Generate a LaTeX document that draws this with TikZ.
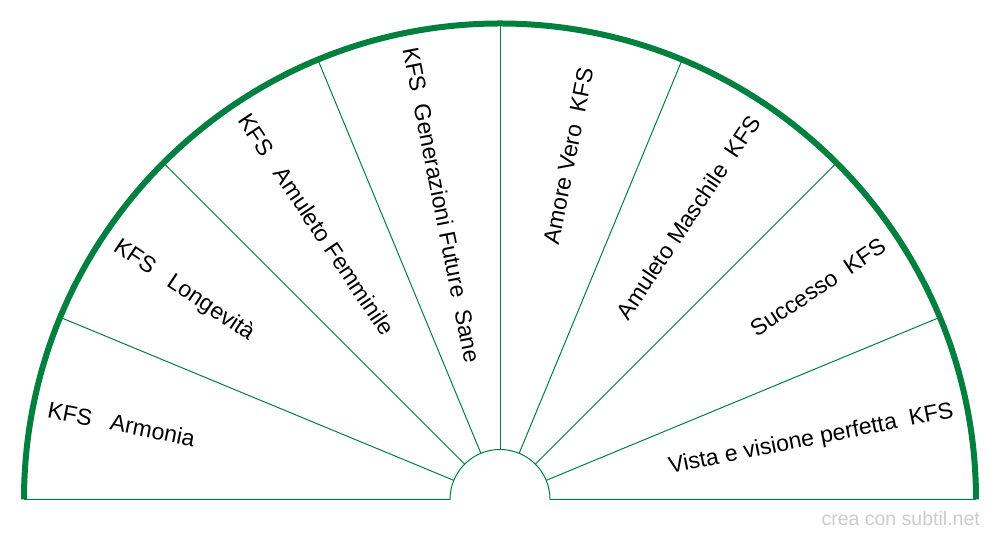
\documentclass[tikz,border=0pt]{standalone}
\usepackage{fontspec}
\setmainfont{Liberation Sans}
\usetikzlibrary{calc}
\definecolor{kgreen}{RGB}{0,128,62}
\definecolor{wmgray}{RGB}{204,204,204}
\tikzset{
  rim/.style={draw=kgreen, line width=6pt, line cap=butt},
  spoke/.style={draw=kgreen, line width=1pt},
  lbl/.style={font=\fontsize{23}{27}\selectfont, inner sep=0pt, text=black, text height=16pt, text depth=0pt},
  leftlbl/.style={lbl, anchor=west},
  rightlbl/.style={lbl, anchor=east},
}
\begin{document}
\begin{tikzpicture}[x=1pt,y=1pt]
\useasboundingbox (0,0) rectangle (1000,540);
\fill[white] (0,0) rectangle (1000,540);
\coordinate (O) at (500,40.5);
% spokes
\foreach \a in {22.5,45,67.5,90,112.5,135,157.5}{
  \draw[spoke] ($(O)+(\a:50)$) -- ($(O)+(\a:476)$);
}
% base line with inner arc
\draw[spoke] ($(O)+(-476,0)$) -- ($(O)+(-50,0)$) arc[start angle=180, end angle=0, radius=50] -- ($(O)+(476,0)$);
% outer rim
\draw[rim] ($(O)+(476,0)$) arc[start angle=0, end angle=180, radius=476];
% labels left
\node[leftlbl, rotate=-11.25] (l1) at ($(O)+(168.75:461)$) {KFS~~~Armonia};
\node[leftlbl, rotate=-33.75] (l2) at ($(O)+(146.25:461)$) {KFS~~~Longevità};
\node[leftlbl, rotate=-56.25] (l3) at ($(O)+(123.75:461)$) {KFS~~~Amuleto Femminile};
\node[leftlbl, rotate=-78.75] (l4) at ($(O)+(101.25:461)$) {KFS~~Generazioni Future~~Sane};
% labels right
\node[rightlbl, rotate=78.75] (r1) at ($(O)+(78.75:440)$) {Amore Vero~~KFS};
\node[rightlbl, rotate=56.25] (r2) at ($(O)+(56.25:459)$) {Amuleto Maschile~~KFS};
\node[rightlbl, rotate=33.75] (r3) at ($(O)+(33.75:461)$) {Successo~~KFS};
\node[rightlbl, rotate=11.25] (r4) at ($(O)+(11.25:462)$) {Vista e visione perfetta~~KFS};
% watermark
\node[anchor=base east, inner sep=0pt, text=wmgray, font=\fontsize{19.5}{23}\selectfont] (wm) at (980,14) {crea con subtil.net};
\end{tikzpicture}
\end{document}
